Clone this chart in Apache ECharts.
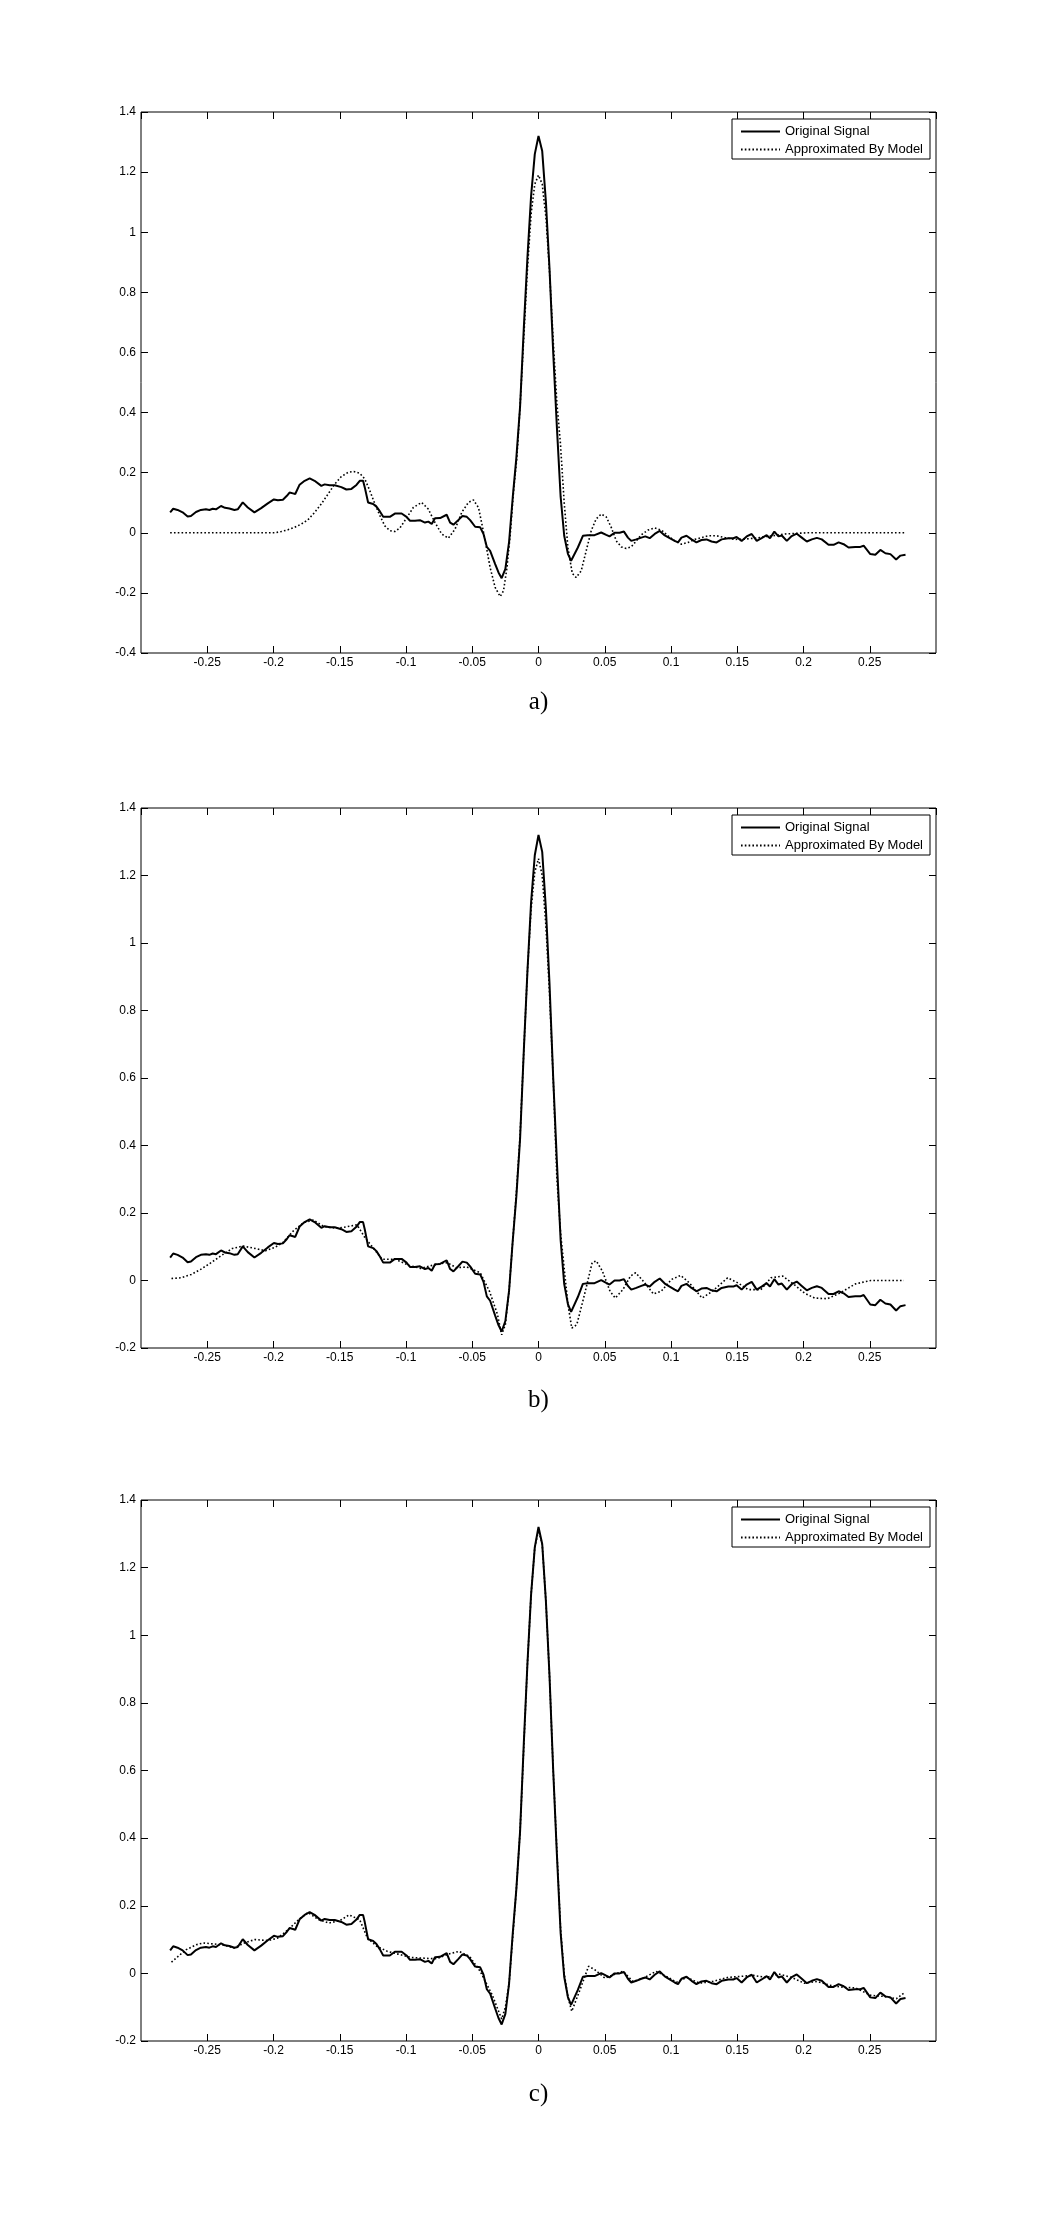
<!DOCTYPE html>
<html>
<head>
<meta charset="utf-8">
<script src="https://cdn.jsdelivr.net/npm/echarts@6/dist/echarts.min.js"></script>
<style>
html,body{margin:0;padding:0;background:#fff;}
#main{width:1064px;height:2224px;}
</style>
</head>
<body>
<div id="main"></div>
<script>
// ---------- DATA ----------
const seriesNames = ['Original Signal', 'Approximated By Model'];
const panelLabels = ['a)', 'b)', 'c)'];
const xTickInfo = {min: -0.3, max: 0.3, interval: 0.05};
const yMinA = -0.4, yMinBC = -0.2, yMax = 1.4, yInterval = 0.2;

// Original signal (same in all panels)
const origX = [-0.2780,-0.2757,-0.2724,-0.2686,-0.2648,-0.2623,-0.2585,-0.2548,-0.2510,-0.2484,-0.2459,-0.2434,-0.2396,-0.2366,-0.2333,-0.2295,-0.2270,-0.2232,-0.2194,-0.2144,-0.2093,-0.2043,-0.1997,-0.1967,-0.1929,-0.1899,-0.1879,-0.1853,-0.1836,-0.1803,-0.1765,-0.1727,-0.1690,-0.1639,-0.1614,-0.1576,-0.1538,-0.1488,-0.1450,-0.1412,-0.1374,-0.1349,-0.1324,-0.1311,-0.1286,-0.1248,-0.1223,-0.1197,-0.1172,-0.1122,-0.1084,-0.1033,-0.0996,-0.0970,-0.0932,-0.0895,-0.0857,-0.0831,-0.0806,-0.0781,-0.0743,-0.0693,-0.0667,-0.0642,-0.0604,-0.0574,-0.0541,-0.0516,-0.0478,-0.0440,-0.0415,-0.0390,-0.0365,-0.0327,-0.0302,
 -0.0278,-0.0250,-0.0222,-0.0194,-0.0167,-0.0139,-0.0111,-0.0083,-0.0056,-0.0028,0,0.0028,0.0056,0.0083,0.0111,0.0139,0.0167,0.0194,0.0222,0.0246,0.0297,0.0335,
 0.0372,0.0423,0.0473,0.0511,0.0536,0.0574,0.0612,0.0645,0.0675,0.0700,0.0738,0.0776,0.0806,0.0839,0.0877,0.0915,0.0953,0.0990,0.1028,0.1053,0.1079,0.1117,0.1155,0.1192,0.1230,0.1268,0.1306,0.1344,0.1382,0.1433,0.1470,0.1495,0.1533,0.1571,0.1609,0.1647,0.1684,0.1722,0.1747,0.1780,0.1811,0.1836,0.1874,0.1911,0.1949,0.1987,0.2025,0.2063,0.2101,0.2138,0.2189,0.2227,0.2265,0.2303,0.2340,0.2391,0.2429,0.2454,0.2504,0.2542,0.2580,0.2618,0.2656,0.2699,0.2732,0.2770];
const origY = [0.068,0.080,0.076,0.068,0.054,0.056,0.069,0.076,0.078,0.076,0.080,0.078,0.089,0.083,0.081,0.076,0.078,0.101,0.084,0.068,0.082,0.098,0.111,0.108,0.110,0.123,0.134,0.131,0.129,0.160,0.173,0.181,0.173,0.156,0.161,0.158,0.158,0.152,0.144,0.146,0.159,0.173,0.173,0.151,0.101,0.096,0.087,0.071,0.053,0.053,0.064,0.064,0.053,0.040,0.040,0.042,0.034,0.037,0.029,0.048,0.049,0.060,0.034,0.027,0.043,0.056,0.053,0.042,0.020,0.018,-0.004,-0.047,-0.060,-0.104,-0.132,
 -0.151,-0.120,-0.030,0.120,0.250,0.420,0.680,0.920,1.120,1.260,1.320,1.270,1.100,0.880,0.600,0.350,0.120,-0.010,-0.070,-0.093,-0.049,-0.010,
 -0.008,-0.008,0.001,-0.007,-0.012,0.000,0.000,0.004,-0.016,-0.027,-0.022,-0.016,-0.012,-0.018,-0.004,0.006,-0.009,-0.018,-0.027,-0.032,-0.016,-0.010,-0.022,-0.032,-0.024,-0.022,-0.029,-0.032,-0.022,-0.018,-0.018,-0.014,-0.027,-0.012,-0.004,-0.027,-0.018,-0.008,-0.018,0.004,-0.012,-0.009,-0.027,-0.011,-0.003,-0.016,-0.029,-0.022,-0.017,-0.022,-0.040,-0.040,-0.032,-0.038,-0.049,-0.047,-0.047,-0.043,-0.071,-0.073,-0.057,-0.068,-0.071,-0.089,-0.076,-0.073];

// Approximation, panel a
const apprAX = [-0.2780,-0.1992,-0.1942,-0.1891,-0.1841,-0.1790,-0.1740,-0.1689,-0.1639,-0.1588,-0.1538,-0.1488,-0.1437,-0.1394,-0.1349,-0.1311,-0.1273,-0.1235,-0.1197,-0.1160,-0.1122,-0.1084,-0.1046,-0.0996,-0.0945,-0.0882,-0.0832,-0.0781,-0.0731,-0.0680,-0.0630,-0.0579,-0.0529,-0.0491,-0.0453,-0.0427,-0.0402,-0.0365,-0.0327,-0.0289,-0.0264,-0.0238,-0.0213,-0.0188,-0.0163,-0.0139,-0.0111,-0.0083,-0.0056,-0.0028,0,0.0028,0.0056,0.0083,0.0111,0.0139,0.0165,0.0194,0.0222,0.0255,0.0284,0.0322,0.0360,0.0398,0.0435,0.0473,0.0511,0.0549,0.0587,0.0625,0.0662,0.0700,0.0738,0.0776,0.0826,0.0877,0.0927,0.0978,0.1028,0.1079,0.1129,0.1180,0.1230,0.1281,0.1344,0.1407,0.1483,0.1558,0.1634,0.1710,0.1785,0.1861,0.1937,0.2038,0.2775];
const apprAY = [0,0,0.004,0.010,0.018,0.029,0.043,0.068,0.096,0.129,0.162,0.187,0.201,0.204,0.198,0.179,0.140,0.096,0.057,0.023,0.007,0.004,0.016,0.049,0.084,0.101,0.079,0.034,-0.004,-0.018,0.012,0.068,0.101,0.109,0.084,0.029,-0.027,-0.116,-0.182,-0.212,-0.193,-0.116,-0.004,0.140,0.251,0.420,0.650,0.880,1.060,1.160,1.190,1.160,1.050,0.870,0.640,0.430,0.300,0.100,-0.050,-0.135,-0.149,-0.127,-0.060,0.007,0.046,0.062,0.053,0.018,-0.027,-0.047,-0.052,-0.047,-0.027,-0.007,0.009,0.016,0.009,-0.010,-0.027,-0.038,-0.032,-0.022,-0.016,-0.010,-0.010,-0.016,-0.022,-0.021,-0.018,-0.013,-0.009,-0.004,-0.002,0,0];

// Approximation, panel b
const apprBX = [-0.277,-0.270,-0.262,-0.255,-0.247,-0.239,-0.231,-0.223,-0.214,-0.206,-0.199,-0.193,-0.185,-0.177,-0.170,-0.162,-0.152,-0.145,-0.137,-0.131,-0.125,-0.118,-0.108,-0.098,-0.089,-0.079,-0.069,-0.062,-0.054,-0.044,-0.037,-0.031,-0.0278,-0.025,-0.0222,-0.0194,-0.0167,-0.0139,-0.0111,-0.0083,-0.0056,-0.0028,0,0.0028,0.0056,0.0083,0.0111,0.0139,0.0167,0.0194,0.0222,0.0251,0.0289,0.0347,0.0405,0.0436,0.0482,0.0540,0.0579,0.0637,0.0694,0.0733,0.0791,0.0868,0.0926,0.1003,0.1073,0.1138,0.1235,0.1312,0.1427,0.1505,0.1582,0.1678,0.1755,0.1844,0.1929,0.2006,0.2083,0.2180,0.2276,0.2392,0.2508,0.2758];
const apprBY = [0.006,0.008,0.018,0.033,0.053,0.075,0.095,0.102,0.095,0.088,0.098,0.112,0.147,0.172,0.179,0.160,0.155,0.159,0.165,0.127,0.098,0.063,0.063,0.045,0.036,0.046,0.053,0.038,0.040,0.023,-0.032,-0.100,-0.161,-0.130,-0.030,0.120,0.260,0.430,0.680,0.920,1.100,1.210,1.250,1.200,1.050,0.850,0.600,0.300,0.140,0.035,-0.070,-0.141,-0.131,-0.042,0.053,0.058,0.028,-0.032,-0.052,-0.027,0.013,0.023,-0.002,-0.040,-0.032,0.003,0.015,-0.007,-0.052,-0.032,0.008,-0.007,-0.027,-0.027,0.008,0.013,-0.012,-0.037,-0.052,-0.054,-0.037,-0.010,0,0];

// Approximation, panel c
const apprCX = [-0.277,-0.272,-0.266,-0.258,-0.253,-0.245,-0.237,-0.230,-0.222,-0.214,-0.204,-0.197,-0.189,-0.181,-0.174,-0.166,-0.158,-0.150,-0.143,-0.135,-0.129,-0.122,-0.114,-0.106,-0.096,-0.087,-0.077,-0.068,-0.060,-0.052,-0.044,-0.035,-0.0278,-0.025,-0.0222,-0.0194,-0.0167,-0.0139,-0.0111,-0.0083,-0.0056,-0.0028,0,0.0028,0.0056,0.0083,0.0111,0.0139,0.0167,0.0194,0.0222,0.0251,0.0309,0.0378,0.0424,0.0502,0.0579,0.0637,0.0714,0.0791,0.0887,0.0965,0.1042,0.1119,0.1215,0.1312,0.1427,0.1524,0.1620,0.1717,0.1813,0.1910,0.2006,0.2103,0.2199,0.2296,0.2392,0.2508,0.2604,0.2701,0.2758];
const apprCY = [0.033,0.050,0.070,0.085,0.090,0.087,0.083,0.075,0.090,0.100,0.097,0.104,0.129,0.159,0.180,0.159,0.149,0.156,0.173,0.159,0.104,0.080,0.065,0.057,0.047,0.045,0.043,0.057,0.065,0.050,0.006,-0.063,-0.135,-0.100,-0.030,0.110,0.250,0.420,0.670,0.920,1.120,1.260,1.310,1.270,1.100,0.880,0.600,0.360,0.130,0.000,-0.070,-0.112,-0.053,0.021,0.011,-0.014,-0.002,0.006,-0.024,-0.014,0.006,-0.009,-0.026,-0.012,-0.029,-0.024,-0.012,-0.009,-0.006,-0.012,-0.002,-0.012,-0.029,-0.024,-0.035,-0.041,-0.043,-0.065,-0.068,-0.075,-0.058];

// ---------- LAYOUT ----------
const grids = [
  {left: 141, top: 112, width: 795, height: 541, yMin: yMinA, labelY: 702, legendTop: 119},
  {left: 141, top: 808, width: 795, height: 540, yMin: yMinBC, labelY: 1400, legendTop: 815},
  {left: 141, top: 1500, width: 795, height: 541, yMin: yMinBC, labelY: 2094, legendTop: 1507}
];
const approxData = [[apprAX, apprAY], [apprBX, apprBY], [apprCX, apprCY]];

const FONT = '"Liberation Sans", Arial, Helvetica, sans-serif';
const fmt = v => String(Math.round(v * 100) / 100);
const pairs = (xs, ys) => xs.map((x, i) => [x, ys[i]]);

const tickStyle = {show: true, inside: true, length: 7, lineStyle: {color: '#000', width: 1}};
const noLine = {show: false, onZero: false};

const option = {
  animation: false,
  backgroundColor: '#fff',
  grid: grids.map(g => ({left: g.left, top: g.top, width: g.width, height: g.height,
    show: true, borderColor: '#000', borderWidth: 1, backgroundColor: '#fff', containLabel: false})),
  xAxis: [],
  yAxis: [],
  legend: [],
  series: [],
  graphic: []
};

grids.forEach((g, i) => {
  option.xAxis.push({
    type: 'value', gridIndex: i, position: 'bottom',
    min: xTickInfo.min, max: xTickInfo.max, interval: xTickInfo.interval,
    axisLine: noLine, axisTick: tickStyle, splitLine: {show: false},
    axisLabel: {show: true, formatter: fmt, showMinLabel: false, showMaxLabel: false,
      color: '#000', fontSize: 12, fontFamily: FONT, margin: 4}
  });
  option.yAxis.push({
    type: 'value', gridIndex: i, position: 'left',
    min: g.yMin, max: yMax, interval: yInterval,
    axisLine: noLine, axisTick: tickStyle, splitLine: {show: false},
    axisLabel: {show: true, formatter: fmt, color: '#000', fontSize: 12, fontFamily: FONT, margin: 5}
  });
});
grids.forEach((g, i) => {
  option.xAxis.push({
    type: 'value', gridIndex: i, position: 'top',
    min: xTickInfo.min, max: xTickInfo.max, interval: xTickInfo.interval,
    axisLine: noLine, axisTick: tickStyle, splitLine: {show: false}, axisLabel: {show: false}
  });
  option.yAxis.push({
    type: 'value', gridIndex: i, position: 'right',
    min: g.yMin, max: yMax, interval: yInterval,
    axisLine: noLine, axisTick: tickStyle, splitLine: {show: false}, axisLabel: {show: false}
  });
});

grids.forEach((g, i) => {
  option.series.push({
    name: seriesNames[0], type: 'line', xAxisIndex: i, yAxisIndex: i,
    data: pairs(origX, origY), symbol: 'none', showSymbol: false, smooth: false,
    lineStyle: {color: '#000', width: 2, type: 'solid'}, itemStyle: {color: '#000'}, z: 3
  });
  option.series.push({
    name: seriesNames[1], type: 'line', xAxisIndex: i, yAxisIndex: i,
    data: pairs(approxData[i][0], approxData[i][1]), symbol: 'none', showSymbol: false, smooth: false,
    lineStyle: {color: '#000', width: 1.6, type: [1.6, 2.2]}, itemStyle: {color: '#000'}, z: 2
  });
  option.legend.push({
    show: true, orient: 'vertical', left: 732, top: g.legendTop,
    padding: [6, 7, 3, 8], itemGap: 5, itemWidth: 39, itemHeight: 14,
    borderColor: '#000', borderWidth: 1, borderRadius: 0, backgroundColor: '#fff',
    selectedMode: false,
    itemStyle: {opacity: 0},
    textStyle: {fontSize: 13, fontFamily: FONT, color: '#000'},
    data: seriesNames.slice()
  });
  option.graphic.push({
    type: 'text', x: g.left + g.width / 2, y: g.labelY,
    style: {text: panelLabels[i], font: '25px "Liberation Serif", "Times New Roman", serif',
      fill: '#000', textAlign: 'center', textVerticalAlign: 'middle'}
  });
});

const chart = echarts.init(document.getElementById('main'), null, {renderer: 'canvas'});
chart.setOption(option);
</script>
</body>
</html>
